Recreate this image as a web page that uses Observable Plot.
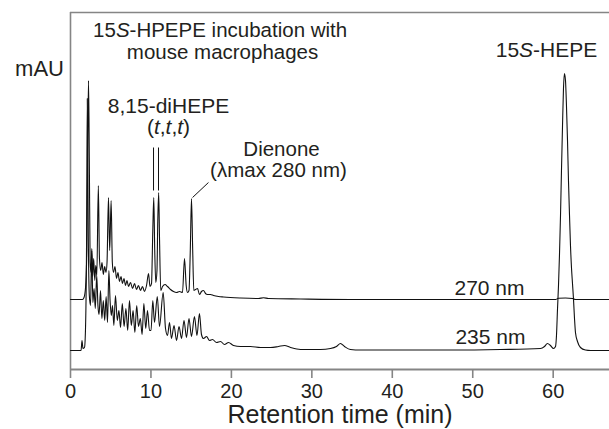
<!DOCTYPE html>
<html>
<head>
<meta charset="utf-8">
<script src="https://cdn.jsdelivr.net/npm/d3@7"></script>
<script src="https://cdn.jsdelivr.net/npm/@observablehq/plot@0.6"></script>
<style>
  html, body { margin: 0; padding: 0; background: #fff; }
</style>
</head>
<body>
<div id="chart"></div>
<script>
// ---- Data (time in min, signal in arbitrary mAU units) ----
const times235 = [0,1.31,1.43,1.55,1.74,1.86,1.99,2.09,2.21,2.34,
  2.49,2.64,2.78,2.93,3.08,3.26,3.41,3.55,3.73,3.90,
  4.08,4.25,4.43,4.60,4.77,4.92,5.07,5.22,5.39,5.59,
  5.82,6.02,6.22,6.44,6.66,6.89,7.11,7.33,7.56,7.78,
  8.00,8.23,8.45,8.68,8.90,9.12,9.35,9.57,9.82,10.01,
  10.23,10.44,10.79,11.06,11.52,11.81,12.06,12.31,12.55,12.87,
  13.18,13.49,13.80,14.11,14.42,14.73,15.04,15.41,15.72,16.03,
  16.28,16.53,16.91,17.28,17.65,18.15,18.65,19.14,19.64,20.26,
  21.13,22.37,23.62,24.86,25.85,26.60,27.35,28.59,29.83,31.08,
  32.32,33.06,33.56,34.06,34.80,36.05,41.02,47.23,53.45,58.42,
  58.92,59.29,59.66,60.04,60.29,60.41,60.53,60.66,60.78,60.91,
  61.03,61.16,61.28,61.40,61.53,61.65,61.78,61.90,62.03,62.15,
  62.28,62.40,62.52,62.65,62.77,63.02,63.39,64.01,64.64,67];
const mau235 = [0,0,10,2,3,20,100,252,115,55,
  45,100,48,62,42,75,45,36,60,32,
  50,30,54,28,80,50,35,45,25,55,
  30,40,23,47,24,42,20,50,25,40,
  18,45,24,32,16,47,22,40,20,20,
  50,28,54,24,58,22,15,28,12,25,
  10,24,12,30,13,32,14,34,15,37,
  16,12,14,10,11,8,9,6,8,5,
  4,4,3,3,4,5,3,1,1,1,
  2,4,7,4,1,0.5,0.5,0.5,1,2,
  4,7,5,2,4,15,40,65,95,135,
  180,225,262,277,270,245,210,170,135,105,
  82,67,52,32,18,9,3,0.5,0,0];

const times270 = [0,1.49,1.68,1.86,2.03,2.14,2.24,2.34,2.44,2.55,
  2.65,2.76,2.88,3.02,3.14,3.27,3.46,3.60,3.75,3.92,
  4.08,4.25,4.41,4.54,4.72,4.87,5.05,5.20,5.34,5.53,
  5.72,5.90,6.09,6.28,6.46,6.65,6.84,7.02,7.21,7.46,
  7.71,7.96,8.20,8.45,8.70,8.95,9.20,9.45,9.70,9.88,
  10.07,10.23,10.35,10.47,10.60,10.75,10.85,10.96,11.07,11.22,
  11.44,11.75,12.06,12.43,12.80,13.18,13.55,13.92,14.17,14.38,
  14.54,14.73,14.89,15.04,15.19,15.33,15.54,15.79,16.03,16.28,
  16.53,16.78,17.03,17.40,17.78,18.40,19.02,21.13,23.37,23.99,
  24.61,28.59,34.80,60.29,60.66,61.53,62.40,62.77,67];
const mau270 = [0,0,2,11,49,149,219,139,37,27,
  51,23,41,19,34,24,114,41,29,37,
  25,33,27,37,102,49,99,37,27,33,
  21,27,18,23,16,21,14,19,13,17,
  11,16,10,14,9,13,8,14,26,13,
  16,69,102,49,17,29,79,107,59,9,
  13,15,13,10,8,7,8,7,41,14,
  7,9,49,101,49,9,10,11,5,8,
  9,6,5,5,4,3,2.5,1.5,1,1.7,
  1,0.5,0,0,1.2,1.5,1,0,0];

// vertical stacking of the two detector traces
const wavelengths = ["270 nm", "235 nm"];
const traceOffsets = [51, 0];

// axis
const xTicks = [0, 10, 20, 30, 40, 50, 60];
const xDomain = [0, 67];
const yDomain = [-19, 338];

// annotations: text, x (min), y (signal units)
const labelTexts = ["15S-HPEPE incubation with", "mouse macrophages", "8,15-diHEPE", "(t,t,t)",
  "Dienone", "(\u03BBmax 280 nm)", "15S-HEPE", "270 nm", "235 nm"];
const labelX = [18.6, 18.9, 12.18, 12.18, 26.23, 25.85, 59.17, 52.08, 52.2];
const labelY = [320, 298, 244.7, 223.2, 201.5, 180.5, 300.7, 62.7, 13.7];
const labelSize = [20.5, 20.5, 21, 21, 20.5, 20.5, 21, 21, 21];

// leader lines: x1, y1, x2, y2
const leaderX1 = [10.32, 10.94, 17.15];
const leaderY1 = [203, 203, 168];
const leaderX2 = [10.32, 10.94, 15.17];
const leaderY2 = [160, 160, 153];

// ---- Build tables ----
const rows270 = times270.map((t, i) => ({t, v: mau270[i] + traceOffsets[0]}));
const rows235 = times235.map((t, i) => ({t, v: mau235[i] + traceOffsets[1]}));
const labels = labelTexts.map((s, i) => ({s, x: labelX[i], y: labelY[i], size: labelSize[i]}));
const leaders = leaderX1.map((x1, i) => ({x1, y1: leaderY1[i], x2: leaderX2[i], y2: leaderY2[i]}));

const frameColor = "#858585";
const textColor = "#231f20";

const chart = Plot.plot({
  width: 609,
  height: 429,
  marginLeft: 70,
  marginRight: 0,
  marginTop: 12,
  marginBottom: 60,
  x: {domain: xDomain},
  y: {domain: yDomain, axis: null},
  style: {fontFamily: "'Liberation Sans', Arial, sans-serif", background: "#fff", color: textColor, overflow: "visible"},
  marks: [
    Plot.ruleX([xDomain[0]], {stroke: frameColor, strokeWidth: 1.6}),
    Plot.ruleY([yDomain[1]], {stroke: frameColor, strokeWidth: 1.6}),
    Plot.ruleY([yDomain[0]], {stroke: frameColor, strokeWidth: 1.8}),
    Plot.axisX({ticks: xTicks, tickSize: 9, tickPadding: 5, fontSize: 20, stroke: frameColor, strokeWidth: 1.6, fill: textColor, label: null}),
    Plot.line(rows270, {x: "t", y: "v", curve: "monotone-x", stroke: "#111", strokeWidth: 1.1}),
    Plot.line(rows235, {x: "t", y: "v", curve: "monotone-x", stroke: "#111", strokeWidth: 1.1}),
    Plot.link(leaders, {x1: "x1", y1: "y1", x2: "x2", y2: "y2", stroke: "#111", strokeWidth: 1}),
    ...labels.map(d => Plot.text([d], {x: "x", y: "y", text: "s", fontSize: d.size, fill: textColor, lineAnchor: "middle"})),
    Plot.text(["mAU"], {frameAnchor: "top-left", dx: -31, dy: 56, fontSize: 22, fill: textColor, textAnchor: "middle", lineAnchor: "middle"}),
    Plot.text(["Retention time (min)"], {frameAnchor: "bottom", dy: 45, fontSize: 25, fill: textColor, lineAnchor: "middle"})
  ]
});

// italic parts (S stereodescriptor, t,t,t geometry)
const italicIdx = {"15S-HPEPE incubation with": [2], "15S-HEPE": [2], "(t,t,t)": [1, 3, 5]};
chart.querySelectorAll("text").forEach(el => {
  const s = el.textContent;
  const idx = italicIdx[s];
  if (!idx || el.querySelector("tspan")) return;
  el.textContent = "";
  const ns = "http://www.w3.org/2000/svg";
  let buf = "";
  for (let i = 0; i < s.length; i++) {
    if (idx.includes(i)) {
      if (buf) { el.appendChild(document.createTextNode(buf)); buf = ""; }
      const ts = document.createElementNS(ns, "tspan");
      ts.setAttribute("font-style", "italic");
      ts.textContent = s[i];
      el.appendChild(ts);
    } else buf += s[i];
  }
  if (buf) el.appendChild(document.createTextNode(buf));
});

document.getElementById("chart").appendChild(chart);
</script>
</body>
</html>
